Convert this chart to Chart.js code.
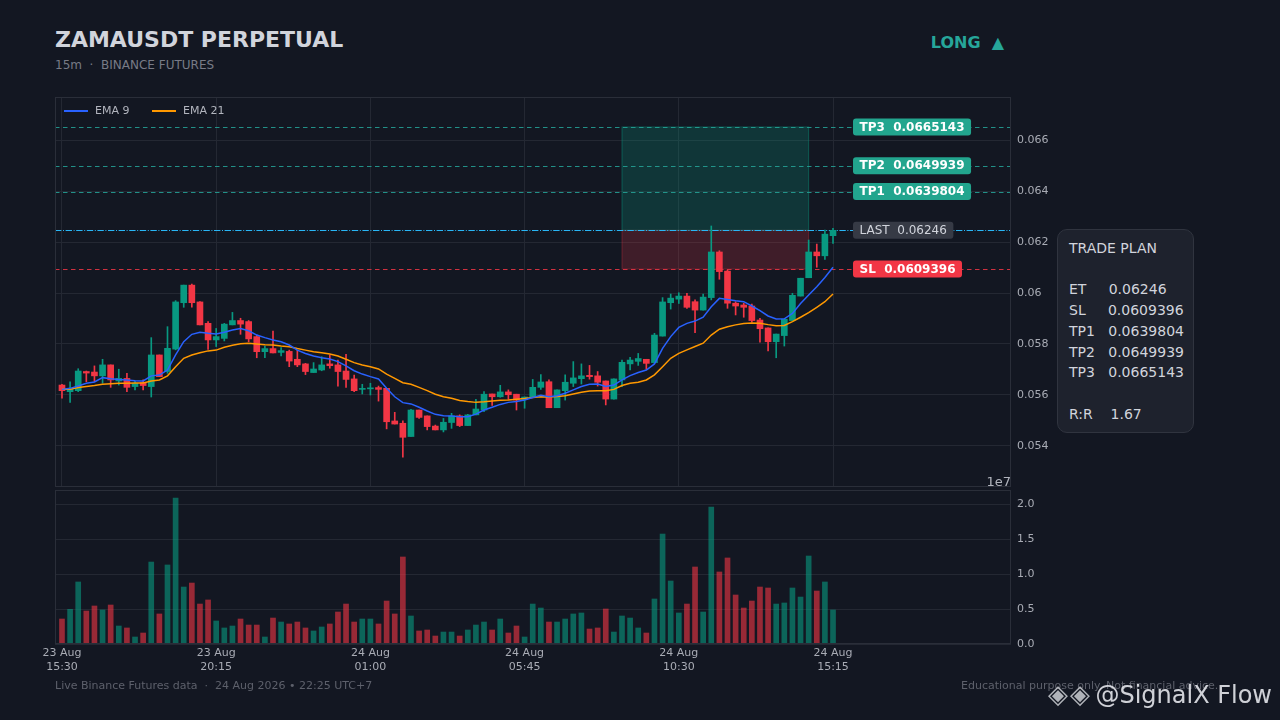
<!DOCTYPE html>
<html>
<head>
<meta charset="utf-8">
<title>ZAMAUSDT Perpetual</title>
<script src="https://cdn.jsdelivr.net/npm/chart.js@4.4.1/dist/chart.umd.min.js"></script>
<style>
  html, body { margin: 0; padding: 0; background: #131722; }
  body { width: 1280px; height: 720px; position: relative; overflow: hidden; font-family: "DejaVu Sans", sans-serif; }
  .abs { position: absolute; white-space: pre; line-height: 1; z-index: 2; }
  #title { left: 55px; top: 29px; font-size: 22px; font-weight: bold; color: #d1d4dc; }
  #sub { left: 55px; top: 59px; font-size: 12px; color: #787b86; }
  #side { right: 276px; top: 35px; font-size: 16px; font-weight: bold; color: #26a69a; }
  #offset { right: 269px; top: 475px; font-size: 13px; color: #b2b5be; }
  #footL { left: 55px; top: 680px; font-size: 11px; color: #5d606b; }
  #footR { left: 961px; top: 680px; font-size: 11px; color: #5d606b; }
  #logo { left: 1048px; top: 681px; font-size: 26px; color: rgba(205,207,212,0.85); letter-spacing: 2px; }
  #mark { right: 8px; top: 683px; font-size: 24px; color: rgba(228,230,235,0.9); }
  .wrap { position: absolute; left: 0; width: 1280px; }
  #priceWrap { top: 90px; height: 400px; }
  #volWrap { top: 485px; height: 200px; }
  #plan { position: absolute; left: 1057px; top: 229px; width: 137px; height: 204px; box-sizing: border-box;
          border: 1px solid #30343f; border-radius: 10px; background: #1e222d; padding: 8px 0 0 11px;
          font-size: 14px; line-height: 20.7px; color: #d1d4dc; white-space: pre; z-index: 2; }
</style>
</head>
<body>
<div id="title" class="abs">ZAMAUSDT PERPETUAL</div>
<div id="sub" class="abs">15m  ·  BINANCE FUTURES</div>
<div id="side" class="abs">LONG  ▲</div>

<div id="priceWrap" class="wrap"><canvas id="priceChart"></canvas></div>
<div id="volWrap" class="wrap"><canvas id="volChart"></canvas></div>
<div id="offset" class="abs">1e7</div>
<div id="plan"></div>

<div id="footL" class="abs">Live Binance Futures data  ·  24 Aug 2026 • 22:25 UTC+7</div>
<div id="footR" class="abs">Educational purpose only. Not financial advice.</div>
<div id="logo" class="abs">◈◈</div>
<div id="mark" class="abs">@SignalX Flow</div>

<script>
// 15m candles, 23 Aug 15:30 -> 24 Aug 15:15
const opens = [0.05639,0.05613,0.05617,0.05692,0.05690,0.05675,0.05718,0.05655,0.05665,0.05633,
  0.05648,0.05633,0.05757,0.05692,0.05780,0.05962,0.06031,0.05965,0.05881,0.05816,
  0.05822,0.05875,0.05892,0.05888,0.05829,0.05770,0.05782,0.05767,0.05771,0.05740,
  0.05722,0.05688,0.05698,0.05722,0.05718,0.05694,0.05663,0.05622,0.05624,0.05629,
  0.05626,0.05498,0.05489,0.05437,0.05541,0.05518,0.05478,0.05463,0.05492,0.05518,
  0.05480,0.05522,0.05541,0.05604,0.05593,0.05612,0.05603,0.05583,0.05591,0.05630,
  0.05652,0.05550,0.05617,0.05646,0.05664,0.05677,0.05675,0.05655,0.05584,0.05659,
  0.05722,0.05732,0.05740,0.05727,0.05831,0.05962,0.05976,0.05988,0.05966,0.05933,
  0.05982,0.06161,0.06086,0.05960,0.05953,0.05949,0.05894,0.05863,0.05809,0.05833,
  0.05892,0.05988,0.06060,0.06161,0.06146,0.06225];
const highs = [0.05642,0.05652,0.05703,0.05694,0.05714,0.05740,0.05718,0.05701,0.05685,0.05655,
  0.05659,0.05825,0.05757,0.05868,0.05970,0.06031,0.06035,0.05966,0.05888,0.05861,
  0.05881,0.05924,0.05901,0.05892,0.05835,0.05792,0.05851,0.05786,0.05776,0.05776,
  0.05724,0.05727,0.05750,0.05757,0.05737,0.05759,0.05678,0.05642,0.05646,0.05635,
  0.05626,0.05532,0.05499,0.05544,0.05541,0.05518,0.05482,0.05508,0.05528,0.05522,
  0.05524,0.05583,0.05613,0.05604,0.05638,0.05620,0.05603,0.05592,0.05661,0.05680,
  0.05659,0.05620,0.05679,0.05731,0.05722,0.05716,0.05692,0.05655,0.05663,0.05737,
  0.05748,0.05763,0.05740,0.05842,0.05982,0.05996,0.06001,0.05999,0.05973,0.05996,
  0.06263,0.06166,0.06090,0.05966,0.05960,0.05957,0.05901,0.05863,0.05839,0.05897,
  0.05999,0.06058,0.06208,0.06192,0.06247,0.06254];
const lows = [0.05587,0.05571,0.05613,0.05652,0.05652,0.05646,0.05630,0.05639,0.05613,0.05620,
  0.05620,0.05592,0.05672,0.05685,0.05777,0.05944,0.05944,0.05875,0.05779,0.05790,
  0.05812,0.05875,0.05838,0.05809,0.05746,0.05746,0.05765,0.05753,0.05711,0.05711,
  0.05680,0.05688,0.05695,0.05705,0.05635,0.05630,0.05613,0.05604,0.05600,0.05576,
  0.05467,0.05486,0.05356,0.05437,0.05508,0.05463,0.05463,0.05455,0.05469,0.05476,
  0.05480,0.05522,0.05535,0.05559,0.05591,0.05583,0.05541,0.05548,0.05591,0.05622,
  0.05550,0.05550,0.05580,0.05633,0.05643,0.05662,0.05635,0.05561,0.05584,0.05633,
  0.05698,0.05716,0.05702,0.05724,0.05831,0.05937,0.05959,0.05940,0.05844,0.05933,
  0.05973,0.06054,0.05940,0.05914,0.05905,0.05886,0.05807,0.05773,0.05746,0.05792,
  0.05892,0.05988,0.06060,0.06101,0.06132,0.06195];
const closes = [0.05617,0.05626,0.05694,0.05686,0.05675,0.05718,0.05659,0.05665,0.05630,0.05646,
  0.05637,0.05757,0.05672,0.05783,0.05965,0.06031,0.05962,0.05875,0.05816,0.05829,
  0.05878,0.05892,0.05878,0.05820,0.05770,0.05782,0.05765,0.05774,0.05733,0.05718,
  0.05692,0.05702,0.05718,0.05715,0.05692,0.05661,0.05617,0.05625,0.05626,0.05622,
  0.05495,0.05486,0.05434,0.05541,0.05512,0.05476,0.05463,0.05493,0.05518,0.05480,
  0.05522,0.05545,0.05603,0.05593,0.05612,0.05601,0.05580,0.05592,0.05630,0.05651,
  0.05550,0.05620,0.05650,0.05667,0.05675,0.05672,0.05650,0.05584,0.05663,0.05728,
  0.05737,0.05743,0.05724,0.05835,0.05965,0.05980,0.05988,0.05944,0.05933,0.05984,
  0.06161,0.06084,0.05960,0.05949,0.05944,0.05892,0.05860,0.05809,0.05839,0.05897,
  0.05991,0.06058,0.06161,0.06146,0.06231,0.06246];
const ema9 = [0.05622,0.05626,0.05635,0.05646,0.05651,0.05668,0.05664,0.05661,0.05659,0.05656,
  0.05655,0.05675,0.05678,0.05698,0.05757,0.05809,0.05838,0.05846,0.05842,0.05839,
  0.05846,0.05855,0.05861,0.05852,0.05835,0.05825,0.05816,0.05809,0.05796,0.05776,
  0.05763,0.05753,0.05746,0.05741,0.05731,0.05714,0.05695,0.05682,0.05672,0.05663,
  0.05626,0.05593,0.05570,0.05565,0.05552,0.05537,0.05524,0.05519,0.05518,0.05515,
  0.05515,0.05525,0.05541,0.05552,0.05563,0.05571,0.05574,0.05580,0.05590,0.05599,
  0.05593,0.05597,0.05607,0.05620,0.05633,0.05642,0.05643,0.05633,0.05639,0.05659,
  0.05676,0.05688,0.05698,0.05722,0.05783,0.05829,0.05865,0.05881,0.05890,0.05905,
  0.05946,0.05979,0.05975,0.05970,0.05966,0.05949,0.05931,0.05910,0.05898,0.05899,
  0.05920,0.05959,0.05992,0.06025,0.06061,0.06101];
const ema21 = [0.05622,0.05622,0.05629,0.05633,0.05637,0.05642,0.05644,0.05646,0.05646,0.05647,
  0.05647,0.05655,0.05659,0.05675,0.05711,0.05744,0.05757,0.05766,0.05773,0.05776,
  0.05787,0.05795,0.05801,0.05803,0.05800,0.05797,0.05796,0.05792,0.05789,0.05782,
  0.05776,0.05770,0.05766,0.05761,0.05753,0.05740,0.05727,0.05718,0.05711,0.05702,
  0.05682,0.05665,0.05648,0.05642,0.05630,0.05617,0.05603,0.05593,0.05587,0.05578,
  0.05574,0.05571,0.05573,0.05576,0.05579,0.05580,0.05583,0.05586,0.05590,0.05593,
  0.05592,0.05594,0.05597,0.05604,0.05611,0.05616,0.05617,0.05617,0.05622,0.05637,
  0.05646,0.05650,0.05659,0.05679,0.05711,0.05744,0.05763,0.05777,0.05790,0.05803,
  0.05835,0.05858,0.05868,0.05875,0.05880,0.05882,0.05881,0.05876,0.05872,0.05873,
  0.05888,0.05905,0.05923,0.05944,0.05966,0.05996];
// volume in units of 1e7
const volumes = [0.357,0.495,0.886,0.471,0.543,0.486,0.557,0.257,0.229,0.100,
  0.157,1.171,0.429,1.129,2.086,0.814,0.871,0.571,0.629,0.329,
  0.229,0.257,0.357,0.271,0.271,0.100,0.371,0.314,0.286,0.314,
  0.229,0.186,0.243,0.286,0.457,0.571,0.314,0.357,0.357,0.286,
  0.614,0.429,1.243,0.400,0.186,0.200,0.114,0.171,0.171,0.114,
  0.200,0.271,0.314,0.200,0.357,0.157,0.257,0.100,0.571,0.514,
  0.314,0.314,0.357,0.429,0.443,0.214,0.229,0.500,0.171,0.400,
  0.371,0.229,0.157,0.643,1.571,0.900,0.443,0.571,1.100,0.457,
  1.957,1.029,1.229,0.700,0.514,0.614,0.814,0.800,0.571,0.586,
  0.800,0.671,1.257,0.757,0.886,0.486];

const tickIdx = [0, 19, 38, 57, 76, 95];
const tickDay = ["23 Aug", "23 Aug", "24 Aug", "24 Aug", "24 Aug", "24 Aug"];
const tickTime = ["15:30", "20:15", "01:00", "05:45", "10:30", "15:15"];
const priceTicks = [0.054, 0.056, 0.058, 0.060, 0.062, 0.064, 0.066];
const volTicks = [0, 0.5, 1.0, 1.5, 2.0];

// trade plan
const entry = 0.06246;
const stopLoss = 0.0609396;
const targets = [0.0639804, 0.0649939, 0.0665143];
const riskReward = 1.67;
const zoneFrom = 69;   // candle index where the plan box starts
const zoneTo = 92;

const UP = "#089981", DOWN = "#f23645";
const UP_VOL = "rgba(8,153,129,0.6)", DOWN_VOL = "rgba(242,54,69,0.6)";
const BLUE = "#2962ff", ORANGE = "#ff9800";
const GRID = "#242833", BORDER = "#2a2e39", TICK = "#a9acb5";
const FONT = '"DejaVu Sans", sans-serif';
const X_MIN = -0.86, X_MAX = 116.93;

Chart.defaults.font.family = FONT;

const isUp = opens.map((o, i) => closes[i] >= o);
const candleColors = isUp.map(u => u ? UP : DOWN);
const volColors = isUp.map(u => u ? UP_VOL : DOWN_VOL);

const levels = [
  { name: "TP3", value: targets[2], kind: "tp" },
  { name: "TP2", value: targets[1], kind: "tp" },
  { name: "TP1", value: targets[0], kind: "tp" },
  { name: "LAST", value: entry, kind: "last" },
  { name: "SL", value: stopLoss, kind: "sl" }
];
const levelStyle = {
  tp:   { line: "rgba(38,166,154,0.85)", dash: [4.5, 3.5], box: "#22a58e", text: "#ffffff", bold: true },
  last: { line: "#29b6f6", dash: [6.4, 1.6, 1, 1.6], box: "#363a45", text: "#d1d4dc", bold: false },
  sl:   { line: "rgba(242,54,69,0.85)", dash: [4.5, 3.5], box: "#f23645", text: "#ffffff", bold: true }
};

// decorations of the price panel: plan zones, level lines, labels, legend
const priceDecor = {
  id: "priceDecor",
  beforeDatasetsDraw(chart) {
    const { ctx, chartArea: a, scales: { x, y } } = chart;
    ctx.save();
    const x0 = x.getPixelForValue(zoneFrom), x1 = x.getPixelForValue(zoneTo);
    const yT = y.getPixelForValue(targets[2]), yE = y.getPixelForValue(entry), yS = y.getPixelForValue(stopLoss);
    ctx.fillStyle = "rgba(8,153,129,0.24)";
    ctx.fillRect(x0, yT, x1 - x0, yE - yT);
    ctx.fillStyle = "rgba(242,54,69,0.2)";
    ctx.fillRect(x0, yE, x1 - x0, yS - yE);
    ctx.lineWidth = 1;
    ctx.strokeStyle = "rgba(8,153,129,0.45)";
    ctx.strokeRect(x0, yT, x1 - x0, yE - yT);
    ctx.strokeStyle = "rgba(242,54,69,0.3)";
    ctx.strokeRect(x0, yE, x1 - x0, yS - yE);

    levels.forEach(l => {
      const st = levelStyle[l.kind];
      const py = Math.round(y.getPixelForValue(l.value)) + 0.5;
      ctx.strokeStyle = st.line;
      ctx.setLineDash(st.dash);
      ctx.beginPath();
      ctx.moveTo(a.left, py);
      ctx.lineTo(a.right, py);
      ctx.stroke();
    });
    ctx.restore();
  },
  afterDatasetsDraw(chart) {
    const { ctx, chartArea: a, scales: { x, y } } = chart;
    ctx.save();
    // level tags
    const lx = x.getPixelForValue(closes.length - 1) + 20;
    ctx.textBaseline = "middle";
    levels.forEach(l => {
      const st = levelStyle[l.kind];
      const py = y.getPixelForValue(l.value);
      ctx.font = (st.bold ? "bold " : "") + "12px " + FONT;
      const txt = l.name + "  " + l.value;
      const w = ctx.measureText(txt).width + 13;
      ctx.fillStyle = st.box;
      ctx.beginPath();
      ctx.roundRect(lx, py - 8.5, w, 17, 3);
      ctx.fill();
      ctx.fillStyle = st.text;
      ctx.fillText(txt, lx + 6.5, py + 0.5);
    });

    // legend
    ctx.font = "11px " + FONT;
    ctx.lineWidth = 2;
    [[BLUE, "EMA 9", 0], [ORANGE, "EMA 21", 88]].forEach(([c, t, dx]) => {
      ctx.strokeStyle = c;
      ctx.beginPath();
      ctx.moveTo(a.left + 9 + dx, a.top + 14);
      ctx.lineTo(a.left + 33 + dx, a.top + 14);
      ctx.stroke();
      ctx.fillStyle = "#b2b5be";
      ctx.fillText(t, a.left + 40 + dx, a.top + 14);
    });

    // panel frame
    ctx.lineWidth = 1;
    ctx.strokeStyle = BORDER;
    ctx.strokeRect(a.left + 0.5, a.top + 0.5, a.width - 1, a.height - 1);
    ctx.restore();
  }
};

const volDecor = {
  id: "volDecor",
  afterDatasetsDraw(chart) {
    const { ctx, chartArea: a } = chart;
    ctx.save();
    ctx.lineWidth = 1;
    ctx.strokeStyle = BORDER;
    ctx.strokeRect(a.left + 0.5, a.top + 0.5, a.width - 1, a.height - 1);
    ctx.translate(1043, 567);
    ctx.rotate(-Math.PI / 2);
    ctx.font = "10.5px " + FONT;
    ctx.fillStyle = "#787b86";
    ctx.textAlign = "center";
    ctx.textBaseline = "middle";
    ctx.fillText("VOL", 0, 0);
    ctx.restore();
  }
};

function xAxis(extra) {
  return Object.assign({
    type: "linear", min: X_MIN, max: X_MAX, offset: false,
    border: { display: false },
    afterBuildTicks: s => { s.ticks = tickIdx.map(v => ({ value: v })); }
  }, extra);
}

// price panel
new Chart(document.getElementById("priceChart"), {
  type: "bar",
  data: {
    datasets: [
      { type: "line", label: "EMA 9", data: ema9.map((v, i) => ({ x: i, y: v })),
        borderColor: BLUE, borderWidth: 1.5, pointRadius: 0, order: 0 },
      { type: "line", label: "EMA 21", data: ema21.map((v, i) => ({ x: i, y: v })),
        borderColor: ORANGE, borderWidth: 1.5, pointRadius: 0, order: 0 },
      { label: "body", data: opens.map((o, i) => ({ x: i, y: [o, closes[i]] })),
        backgroundColor: candleColors, barThickness: 6, minBarLength: 1, grouped: false, order: 1 },
      { label: "wick", data: lows.map((l, i) => ({ x: i, y: [l, highs[i]] })),
        backgroundColor: candleColors, barThickness: 1, grouped: false, order: 2 }
    ]
  },
  options: {
    responsive: true,
    maintainAspectRatio: false,
    animation: false,
    layout: { padding: { left: 55, right: 0, top: 7, bottom: 3 } },
    plugins: { legend: { display: false }, tooltip: { enabled: false } },
    scales: {
      x: xAxis({
        grid: { color: GRID, drawTicks: false, offset: false },
        ticks: { display: false },
        afterFit: s => { s.height = 0; s.paddingLeft = 0; s.paddingRight = 0; }
      }),
      y: {
        position: "right", min: 0.05239, max: 0.06769,
        grid: { color: GRID, drawTicks: false },
        border: { display: false },
        ticks: { color: TICK, font: { size: 11 }, padding: 6, callback: v => String(+v.toFixed(3)) },
        afterBuildTicks: s => { s.ticks = priceTicks.map(v => ({ value: v })); },
        afterFit: s => { s.width = 269; s.paddingTop = 0; s.paddingBottom = 0; }
      }
    }
  },
  plugins: [priceDecor]
});

// volume panel
new Chart(document.getElementById("volChart"), {
  type: "bar",
  data: {
    datasets: [
      { label: "Volume", data: volumes.map((v, i) => ({ x: i, y: v })),
        backgroundColor: volColors, barThickness: 5 }
    ]
  },
  options: {
    responsive: true,
    maintainAspectRatio: false,
    animation: false,
    layout: { padding: { left: 55, right: 0, top: 5, bottom: 0 } },
    plugins: { legend: { display: false }, tooltip: { enabled: false } },
    scales: {
      x: xAxis({
        grid: { display: false, drawTicks: false, offset: false },
        ticks: {
          color: TICK, font: { size: 11 }, padding: 3, maxRotation: 0, autoSkip: false,
          callback: v => {
            const k = tickIdx.indexOf(v);
            return k < 0 ? "" : [tickDay[k], tickTime[k]];
          }
        },
        afterFit: s => { s.height = 41; s.paddingLeft = 0; s.paddingRight = 0; }
      }),
      y: {
        position: "right", min: 0, max: 2.2,
        grid: { color: GRID, drawTicks: false },
        border: { display: false },
        ticks: { color: TICK, font: { size: 11 }, padding: 6, callback: v => v.toFixed(1) },
        afterBuildTicks: s => { s.ticks = volTicks.map(v => ({ value: v })); },
        afterFit: s => { s.width = 269; s.paddingTop = 0; s.paddingBottom = 0; }
      }
    }
  },
  plugins: [volDecor]
});

// trade plan card
document.getElementById("plan").textContent =
  "TRADE PLAN\n\n" +
  "ET     " + entry + "\n" +
  "SL     " + stopLoss + "\n" +
  "TP1   " + targets[0] + "\n" +
  "TP2   " + targets[1] + "\n" +
  "TP3   " + targets[2] + "\n\n" +
  "R:R    " + riskReward;
</script>
</body>
</html>
